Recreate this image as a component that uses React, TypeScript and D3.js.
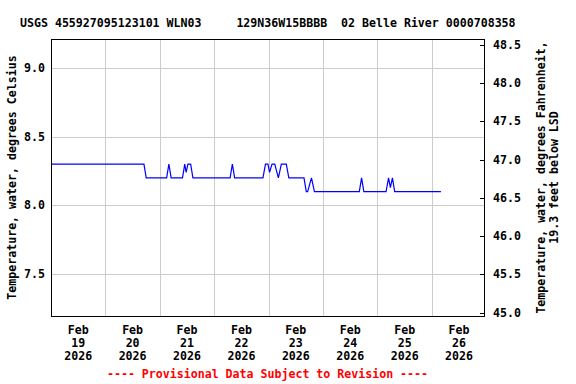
import React from "react";
import * as d3 from "d3";

const titleText = "USGS 455927095123101 WLN03     129N36W15BBBB  02 Belle River 0000708358";
const leftAxisTitle = "Temperature, water, degrees Celsius";
const rightAxisTitle1 = "Temperature, water, degrees Fahrenheit,";
const rightAxisTitle2 = "19.3 feet below LSD";
const footerText = "---- Provisional Data Subject to Revision ----";

// hours since Feb 19 2026 00:00
const obsHours = [0, 41, 42, 51, 52, 53, 58, 59, 59.6, 60.4, 61.6, 62.6, 79, 80, 81, 93.5, 94.6, 95.7, 96.4, 97.5, 98.7, 100.3, 101.6, 103.8, 104.9, 111.6, 112.6, 113.2, 114.9, 116.2, 136, 137, 138, 147.8, 148.9, 149.7, 150.6, 151.6, 172];
const obsTempC = [8.3, 8.3, 8.2, 8.2, 8.3, 8.2, 8.2, 8.3, 8.24, 8.3, 8.3, 8.2, 8.2, 8.3, 8.2, 8.2, 8.3, 8.3, 8.24, 8.3, 8.3, 8.2, 8.3, 8.3, 8.2, 8.2, 8.1, 8.1, 8.2, 8.1, 8.1, 8.2, 8.1, 8.1, 8.2, 8.13, 8.2, 8.1, 8.1];

const xDomainHours = [0, 191];
const yDomainC = [7.198, 9.208];
const leftTicks = [7.5, 8.0, 8.5, 9.0];
const rightTicks = [45.0, 45.5, 46.0, 46.5, 47.0, 47.5, 48.0, 48.5];
const dayMonths = ["Feb", "Feb", "Feb", "Feb", "Feb", "Feb", "Feb", "Feb"];
const dayNumbers = ["19", "20", "21", "22", "23", "24", "25", "26"];
const dayYears = ["2026", "2026", "2026", "2026", "2026", "2026", "2026", "2026"];

const W = 576;
const H = 384;
const L = 51;
const R = 484;
const T = 39;
const B = 316;
const FONT = "'DejaVu Sans Mono', monospace";
const FS = 11.6;

export default function App() {
  const x = d3.scaleLinear().domain(xDomainHours).range([L, R]);
  const y = d3.scaleLinear().domain(yDomainC).range([B, T]);
  const yF = d3.scaleLinear().domain(yDomainC.map((c) => c * 1.8 + 32)).range([B, T]);

  const pts = obsHours.map((h, i) => [h, obsTempC[i]] as [number, number]);
  const line = d3
    .line<[number, number]>()
    .x((d) => x(d[0]))
    .y((d) => y(d[1]));

  const dayBounds = d3.range(1, 8).map((i) => i * 24);
  const px = (v: number) => Math.round(v) + 0.5;

  return (
    <svg width={W} height={H} style={{ position: "absolute", left: 0, top: 0, background: "#fff" }}>
      <rect x={0} y={0} width={W} height={H} fill="#fff" />
      <text x={20} y={26.5} fontFamily={FONT} fontWeight="bold" fontSize={FS} fill="#000" style={{ whiteSpace: "pre" }} xmlSpace="preserve">
        {titleText}
      </text>
      {/* gridlines */}
      <g stroke="#cccccc" strokeWidth={1} shapeRendering="crispEdges">
        {leftTicks.map((t) => (
          <line key={"h" + t} x1={L} x2={R} y1={px(y(t))} y2={px(y(t))} />
        ))}
        {dayBounds.map((h) => (
          <line key={"v" + h} x1={px(x(h))} x2={px(x(h))} y1={T} y2={B} />
        ))}
      </g>
      {/* data */}
      <path d={line(pts) || ""} fill="none" stroke="#0000ff" strokeWidth={1.2} />
      {/* frame */}
      <rect x={L + 0.5} y={T + 0.5} width={R - L} height={B - T} fill="none" stroke="#000" strokeWidth={1} shapeRendering="crispEdges" />
      {/* right ticks */}
      <g stroke="#000" strokeWidth={1} shapeRendering="crispEdges">
        {rightTicks.map((t) => (
          <line key={"rt" + t} x1={R - 4} x2={R + 0.5} y1={px(yF(t))} y2={px(yF(t))} />
        ))}
      </g>
      <g fontFamily={FONT} fontWeight="bold" fontSize={FS} fill="#000">
        {leftTicks.map((t) => (
          <text key={"lt" + t} x={45} y={y(t) + 4} textAnchor="end">
            {t.toFixed(1)}
          </text>
        ))}
        {rightTicks.map((t) => (
          <text key={"rl" + t} x={493} y={yF(t) + 4} textAnchor="start">
            {t.toFixed(1)}
          </text>
        ))}
        {dayNumbers.map((d, i) => {
          const cx = x(i * 24 + 12);
          return (
            <g key={"d" + d}>
              <text x={cx} y={334} textAnchor="middle">{dayMonths[i]}</text>
              <text x={cx} y={347} textAnchor="middle">{d}</text>
              <text x={cx} y={360} textAnchor="middle">{dayYears[i]}</text>
            </g>
          );
        })}
        <text transform={`translate(16,${(T + B) / 2}) rotate(-90)`} textAnchor="middle">
          {leftAxisTitle}
        </text>
        <text transform={`translate(545,${(T + B) / 2}) rotate(-90)`} textAnchor="middle">
          {rightAxisTitle1}
        </text>
        <text transform={`translate(558,${(T + B) / 2}) rotate(-90)`} textAnchor="middle">
          {rightAxisTitle2}
        </text>
      </g>
      <text x={(L + R) / 2} y={378} textAnchor="middle" fontFamily={FONT} fontWeight="bold" fontSize={FS} fill="#ff0000" style={{ whiteSpace: "pre" }}>
        {footerText}
      </text>
    </svg>
  );
}
